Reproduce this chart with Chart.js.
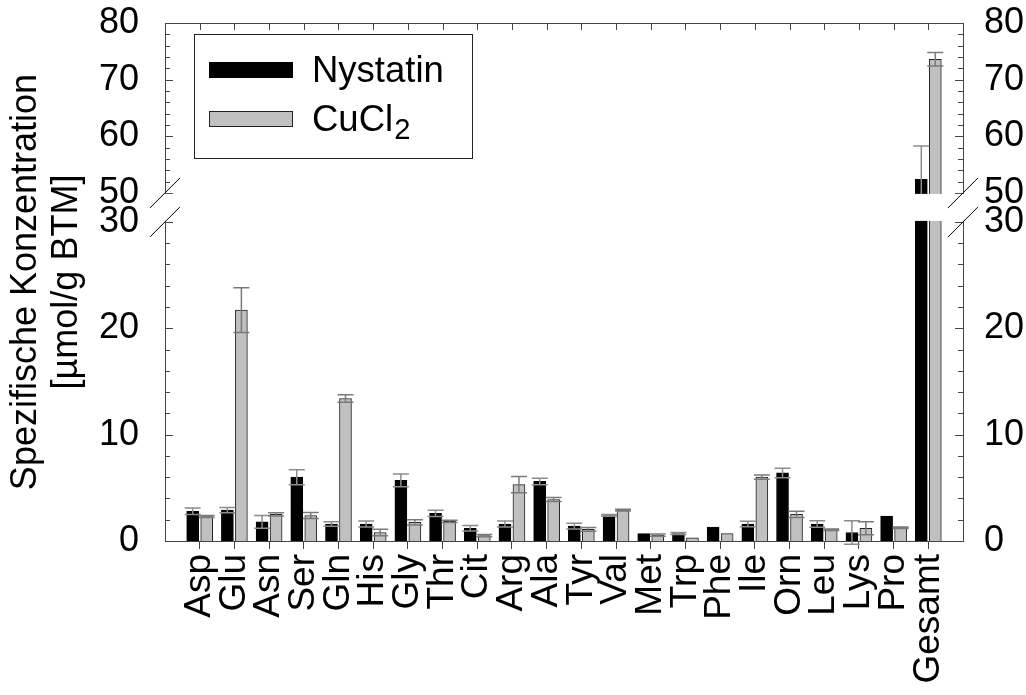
<!DOCTYPE html>
<html>
<head>
<meta charset="utf-8">
<script src="https://cdn.jsdelivr.net/npm/chart.js@4/dist/chart.umd.min.js"></script>
<style>
  html, body { margin: 0; padding: 0; background: #fff; }
</style>
</head>
<body>
<canvas id="chart" width="1026" height="695"></canvas>
<script>
const categories = ['Asp', 'Glu', 'Asn', 'Ser', 'Gln', 'His', 'Gly', 'Thr', 'Cit', 'Arg', 'Ala',
  'Tyr', 'Val', 'Met', 'Trp', 'Phe', 'Ile', 'Orn', 'Leu', 'Lys', 'Pro', 'Gesamt'];
const seriesNames = ['Nystatin', 'CuCl₂'];

const nystatin    = [2.8, 2.9, 1.8, 6.0, 1.6, 1.6, 5.7, 2.6, 1.2, 1.6, 5.6, 1.4, 2.4, 0.7, 0.7, 1.3, 1.6, 6.4, 1.6, 0.8, 2.35, 52.4];
const nystatinErr = [0.3, 0.25, 0.6, 0.7, 0.22, 0.28, 0.6, 0.3, 0.25, 0.28, 0.3, 0.28, 0.08, 0, 0.1, 0, 0.25, 0.45, 0.3, 1.1, 0, 5.9];
const cucl2       = [2.3, 21.7, 2.5, 2.4, 13.4, 0.8, 1.75, 1.85, 0.5, 5.3, 3.9, 1.1, 2.9, 0.55, 0.3, 0.7, 6.0, 2.5, 1.05, 1.2, 1.25, 73.6];
const cucl2Err    = [0.1, 2.1, 0.15, 0.28, 0.35, 0.3, 0.25, 0.1, 0.1, 0.77, 0.18, 0.18, 0.08, 0.1, 0, 0, 0.2, 0.3, 0.07, 0.62, 0.07, 1.2];

const yTicks = [0, 10, 20, 30, 50, 60, 70, 80];

const FONT = "'Liberation Sans', Arial, sans-serif";
const AXIS = '#444';

// y axis with a gap between 30 and 50
const BREAK_LO = 30, BREAK_HI = 50;
const FRAC_LO = 0.616, FRAC_HI = 0.672;

class BrokenScale extends Chart.LinearScale {
  buildTicks() {
    this.start = this.min;
    this.end = this.max;
    return yTicks.map(v => ({ value: v }));
  }
  _frac(v) {
    if (v <= BREAK_LO) return (v - this.min) / (BREAK_LO - this.min) * FRAC_LO;
    if (v <= BREAK_HI) return FRAC_LO + (v - BREAK_LO) / (BREAK_HI - BREAK_LO) * (FRAC_HI - FRAC_LO);
    return FRAC_HI + (v - BREAK_HI) / (this.max - BREAK_HI) * (1 - FRAC_HI);
  }
  getPixelForValue(v) {
    return this.bottom - this._frac(v) * (this.bottom - this.top);
  }
  getValueForPixel(p) {
    const f = (this.bottom - p) / (this.bottom - this.top);
    if (f <= FRAC_LO) return this.min + f / FRAC_LO * (BREAK_LO - this.min);
    if (f <= FRAC_HI) return BREAK_LO + (f - FRAC_LO) / (FRAC_HI - FRAC_LO) * (BREAK_HI - BREAK_LO);
    return BREAK_HI + (f - FRAC_HI) / (1 - FRAC_HI) * (this.max - BREAK_HI);
  }
}
BrokenScale.id = 'broken';
BrokenScale.defaults = Chart.LinearScale.defaults;
Chart.register(BrokenScale);

function drawLabel(ctx, text, x, y, size) {
  // subscript digits drawn lowered and smaller
  let cx = x;
  for (const ch of text) {
    const code = ch.charCodeAt(0);
    if (code >= 0x2080 && code <= 0x2089) {
      ctx.font = `${size * 0.8}px ${FONT}`;
      const d = String(code - 0x2080);
      ctx.fillText(d, cx + 1, y + size * 0.28);
      cx += ctx.measureText(d).width + 1;
    } else {
      ctx.font = `${size}px ${FONT}`;
      ctx.fillText(ch, cx, y);
      cx += ctx.measureText(ch).width;
    }
  }
}

const framePlugin = {
  id: 'frame',
  afterDatasetsDraw(chart) {
    const { ctx, chartArea: a, scales: { x, y } } = chart;
    ctx.save();

    // error bars
    chart.data.datasets.forEach((ds, d) => {
      const meta = chart.getDatasetMeta(d);
      meta.data.forEach((bar, i) => {
        const e = ds.errors[i];
        if (!e) return;
        const v = ds.data[i].y;
        const yt = y.getPixelForValue(v + e), yb = y.getPixelForValue(v - e);
        ctx.strokeStyle = ds.errColor;
        ctx.lineWidth = 1.5;
        ctx.beginPath();
        ctx.moveTo(bar.x, yt); ctx.lineTo(bar.x, yb);
        ctx.moveTo(bar.x - 8, yt); ctx.lineTo(bar.x + 8, yt);
        ctx.moveTo(bar.x - 8, yb); ctx.lineTo(bar.x + 8, yb);
        ctx.stroke();
      });
    });

    // top border and inner ticks
    ctx.strokeStyle = AXIS;
    ctx.lineWidth = 1;
    ctx.beginPath();
    ctx.moveTo(a.left, a.top + 0.5); ctx.lineTo(a.right, a.top + 0.5);
    categories.forEach((c, i) => {
      const px = Math.round(x.getPixelForValue(i)) + 0.5;
      ctx.moveTo(px, a.top); ctx.lineTo(px, a.top + 7);
    });
    for (let v = 2; v < 80; v += 2) {
      if (v > BREAK_LO && v < BREAK_HI) continue;
      const len = v % 10 === 0 ? 8 : 5;
      const py = Math.round(y.getPixelForValue(v)) + 0.5;
      ctx.moveTo(a.left, py); ctx.lineTo(a.left + len, py);
      ctx.moveTo(a.right - len, py); ctx.lineTo(a.right, py);
    }
    ctx.stroke();

    // axis break
    const y50 = y.getPixelForValue(BREAK_HI), y30 = y.getPixelForValue(BREAK_LO);
    ctx.fillStyle = '#fff';
    ctx.fillRect(a.left - 4, y50 + 1, a.right - a.left + 8, y30 - y50 - 2);
    ctx.strokeStyle = '#000';
    ctx.beginPath();
    [a.left, a.right].forEach(bx => {
      [y50, y30].forEach(by => {
        ctx.moveTo(bx - 15, by + 15); ctx.lineTo(bx + 15, by - 15);
      });
    });
    ctx.stroke();

    // legend
    const lx = a.left + 29, ly = a.top + 11;
    ctx.strokeStyle = '#222';
    ctx.strokeRect(lx + 0.5, ly + 0.5, 278, 124);
    chart.data.datasets.forEach((ds, d) => {
      const ry = ly + 28 + d * 49;
      ctx.fillStyle = ds.backgroundColor;
      ctx.fillRect(lx + 15, ry, 84, 16);
      ctx.strokeStyle = ds.borderColor;
      ctx.strokeRect(lx + 15.5, ry + 0.5, 83, 15);
      ctx.fillStyle = '#000';
      ctx.textBaseline = 'middle';
      drawLabel(ctx, ds.label, lx + 118, ry + 10, 36.5);
    });
    ctx.restore();
  }
};

const tickFont = { family: FONT, size: 36 };

new Chart(document.getElementById('chart'), {
  type: 'bar',
  data: {
    datasets: [
      {
        label: seriesNames[0],
        data: nystatin.map((v, i) => ({ x: i, y: v })),
        errors: nystatinErr,
        errColor: '#8c8c8c',
        backgroundColor: '#000000',
        borderColor: '#000000',
        borderWidth: 1
      },
      {
        label: seriesNames[1],
        data: cucl2.map((v, i) => ({ x: i, y: v })),
        errors: cucl2Err,
        errColor: '#7a7a7a',
        backgroundColor: '#c0c0c0',
        borderColor: '#222222',
        borderWidth: 1
      }
    ]
  },
  options: {
    responsive: false,
    animation: false,
    devicePixelRatio: 1,
    layout: { padding: { top: 23, left: 0, right: 0, bottom: 0 } },
    datasets: { bar: { barThickness: 14, maxBarThickness: 12 } },
    plugins: { legend: { display: false }, tooltip: { enabled: false } },
    scales: {
      x: {
        type: 'linear',
        position: 'bottom',
        offset: false,
        min: -1,
        max: 22,
        afterBuildTicks: s => { s.ticks = categories.map((c, i) => ({ value: i })); },
        afterFit: s => { s.height = 154; s.paddingLeft = 0; s.paddingRight = 0; },
        ticks: {
          autoSkip: false, minRotation: 90, maxRotation: 90, padding: 5,
          color: '#000', font: { family: FONT, size: 37 },
          callback: v => categories[v]
        },
        grid: { display: true, offset: false, drawOnChartArea: false, drawTicks: true, tickLength: 8, color: AXIS },
        border: { display: true, color: AXIS, width: 1 }
      },
      y: {
        type: 'broken',
        position: 'left',
        min: 0,
        max: 80,
        afterFit: s => { s.width = 165; s.paddingTop = 0; s.paddingBottom = 0; },
        ticks: { padding: 18, color: '#000', font: tickFont, callback: v => String(v) },
        grid: { display: false },
        border: { display: true, color: AXIS, width: 1 },
        title: {
          display: true,
          text: ['Spezifische Konzentration', '[µmol/g BTM]'],
          color: '#000',
          font: { family: FONT, size: 36, lineHeight: 1.14 },
          padding: { top: 6, bottom: 0 }
        }
      },
      y2: {
        type: 'broken',
        position: 'right',
        min: 0,
        max: 80,
        afterFit: s => { s.width = 63; s.paddingTop = 0; s.paddingBottom = 0; },
        ticks: { padding: 13, color: '#000', font: tickFont, callback: v => String(v) },
        grid: { display: false },
        border: { display: true, color: AXIS, width: 1 }
      }
    }
  },
  plugins: [framePlugin]
});
</script>
</body>
</html>
